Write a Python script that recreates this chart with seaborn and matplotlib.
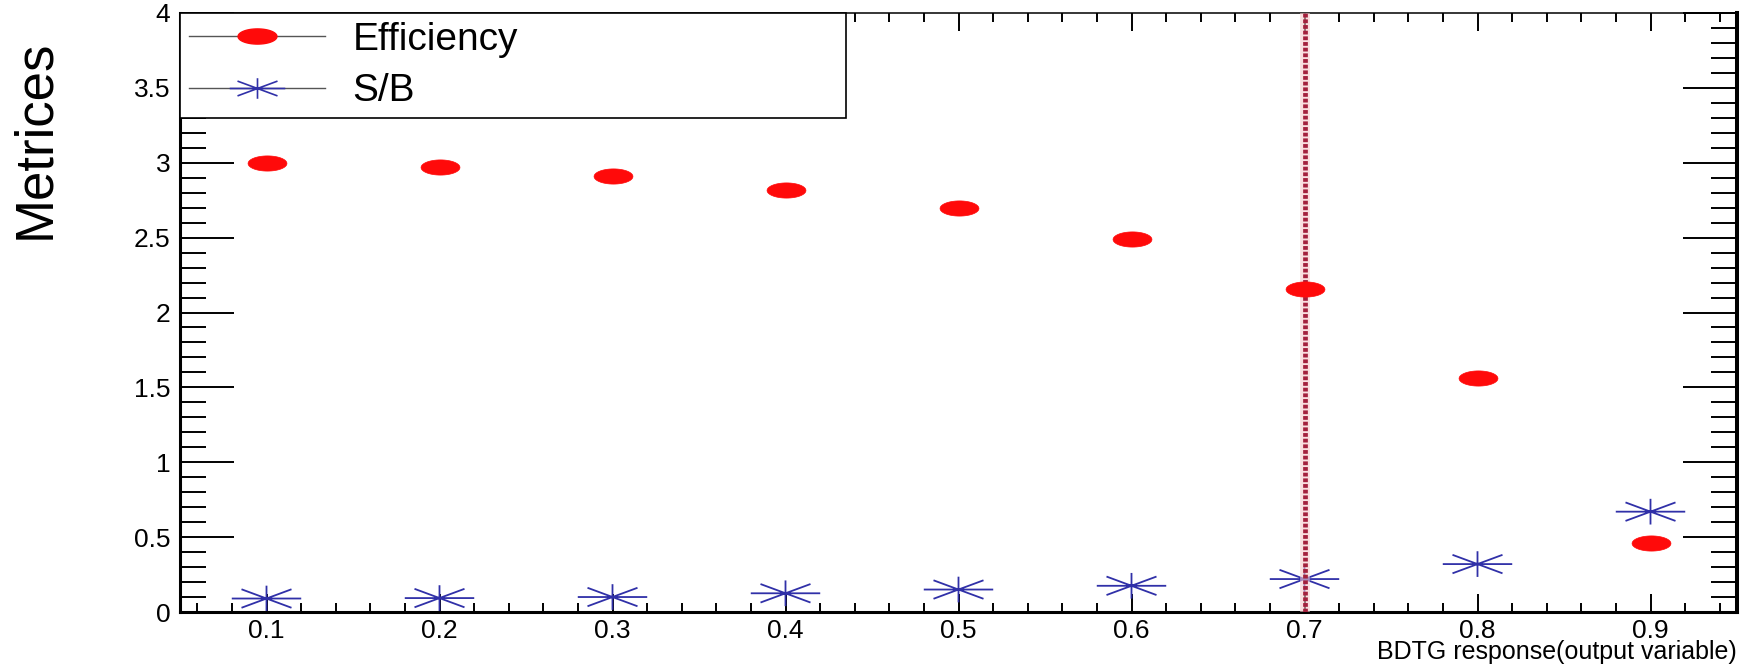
import numpy as np
import pandas as pd
import matplotlib
matplotlib.use("Agg")
import matplotlib.pyplot as plt
from matplotlib.path import Path
from matplotlib.markers import MarkerStyle
from matplotlib.lines import Line2D
from matplotlib.ticker import MultipleLocator, FormatStrFormatter, FuncFormatter
import seaborn as sns

# BDTG cut values and the metrics evaluated at each cut
bdtg_cut = [0.1, 0.2, 0.3, 0.4, 0.5, 0.6, 0.7, 0.8, 0.9]
efficiency = [3.00, 2.97, 2.91, 2.82, 2.70, 2.49, 2.16, 1.56, 0.46]
signal_over_background = [0.09, 0.093, 0.10, 0.125, 0.15, 0.175, 0.22, 0.32, 0.67]
chosen_cut = 0.7

series_labels = ["Efficiency", "S/B"]
x_label = "BDTG response(output variable)"
y_label = "Metrices"

df = pd.DataFrame({"cut": bdtg_cut, "eff": efficiency, "sb": signal_over_background})

plt.rcParams["font.family"] = ["Liberation Sans", "DejaVu Sans"]

RED = "#ff0a0a"
BLUE = "#3030a8"

# flat ellipse marker for the efficiency points
theta = np.linspace(0, 2 * np.pi, 61)
ellipse_path = Path(np.column_stack([np.cos(theta), 0.39 * np.sin(theta)]), closed=True)
ellipse_marker = MarkerStyle(ellipse_path)

# wide eight-arm asterisk for S/B
h, d = 0.37, 0.72
star_path = Path(
    [(-1, 0), (1, 0), (0, -h), (0, h), (-d, -d * h), (d, d * h), (-d, d * h), (d, -d * h)],
    [Path.MOVETO, Path.LINETO] * 4,
)
star_marker = MarkerStyle(star_path, fillstyle="none")

fig, ax = plt.subplots(figsize=(17.43, 6.65), dpi=100)
fig.subplots_adjust(left=180 / 1743, right=1737 / 1743, bottom=1 - 612 / 665, top=1 - 13 / 665)

sns.scatterplot(data=df, x="cut", y="sb", marker=star_marker, s=50 ** 2,
                color=BLUE, linewidth=1.3, zorder=2, ax=ax, legend=False)

# selected working point
ax.axvline(chosen_cut, color="#f6caca", lw=7, alpha=0.6, zorder=3)
ax.axvline(chosen_cut, color="#a3203c", lw=3.4, linestyle=(0, (0.8, 0.4)), zorder=3)

sns.scatterplot(data=df, x="cut", y="eff", marker=ellipse_marker, s=28 ** 2,
                color=RED, edgecolor=RED, linewidth=0.5, zorder=4, ax=ax, legend=False)

ax.set_xlim(0.05, 0.95)
ax.set_ylim(0, 4)
ax.xaxis.set_major_locator(MultipleLocator(0.1))
ax.xaxis.set_minor_locator(MultipleLocator(0.02))
ax.yaxis.set_major_locator(MultipleLocator(0.5))
ax.yaxis.set_minor_locator(MultipleLocator(0.1))
ax.xaxis.set_major_formatter(FormatStrFormatter("%.1f"))
ax.yaxis.set_major_formatter(FuncFormatter(lambda v, p: f"{v:g}"))

ax.tick_params(axis="x", which="major", direction="in", length=13, width=1.4,
               top=True, bottom=True, labelsize=19, pad=5)
ax.tick_params(axis="x", which="minor", direction="in", length=6.5, width=1.4,
               top=True, bottom=True)
ax.tick_params(axis="y", which="major", direction="in", length=39, width=1.4,
               left=True, right=True, labelsize=19, pad=7)
ax.tick_params(axis="y", which="minor", direction="in", length=19, width=1.4,
               left=True, right=True)

for side, lw in {"left": 2.2, "bottom": 2.2, "top": 1.1, "right": 2.9}.items():
    ax.spines[side].set_linewidth(lw)
    ax.spines[side].set_color("black")

ax.set_xlabel(x_label, fontsize=18, loc="right")
ax.xaxis.set_label_coords(1.0, -0.0467)
ax.set_ylabel(y_label, fontsize=38, loc="top")
ax.yaxis.set_label_coords(-0.077, 0.955)

h_eff = Line2D([], [], color="#555555", lw=1.0, marker=ellipse_marker, markersize=28,
               markerfacecolor=RED, markeredgecolor=RED)
h_sb = Line2D([], [], color="#555555", lw=1.0, marker=star_path, fillstyle="none",
              markersize=40, markerfacecolor="none", markeredgecolor=BLUE, markeredgewidth=1.2)
leg = ax.legend(handles=[h_eff, h_sb], labels=series_labels, loc="upper left",
                bbox_to_anchor=(0, 0, 0.428, 1), mode="expand", borderaxespad=0,
                fontsize=28, handlelength=3.5, handletextpad=0.72, borderpad=0.22,
                labelspacing=0.4, frameon=True, fancybox=False, framealpha=1,
                edgecolor="black")
leg.get_frame().set_linewidth(1.2)
leg.set_zorder(5)

fig.savefig("out.png", dpi=100)
